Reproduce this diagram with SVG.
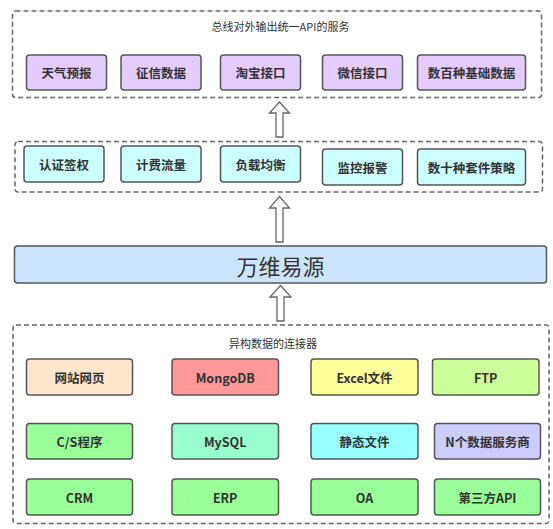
<svg xmlns="http://www.w3.org/2000/svg" width="553" height="529" viewBox="0 0 553 529">
<style>
text{font-family:"Noto Sans CJK SC","Noto Sans",sans-serif;fill:#333;text-anchor:middle;dominant-baseline:central}
.grp{fill:none;stroke:#666;stroke-width:1.5;stroke-dasharray:5 3}
.box{stroke:#555;stroke-width:1.5}
.lbl{font-size:12.5px;font-weight:bold}
.ttl{font-size:11px}
.arr{fill:#fff;stroke:#666;stroke-width:1.3}
.p{fill:#E5CCFF}.c{fill:#CCFFFF}.g{fill:#99FF99}
</style>
<rect width="553" height="529" fill="#fff"/>
<g id="api-group">
<rect class="grp" x="12.5" y="11" width="529" height="86.5" rx="3"/>
<text class="ttl" x="280.5" y="26">总线对外输出统一API的服务</text>
</g>
<g id="n-tianqi"><rect class="box p" x="26.5" y="55" width="80" height="35" rx="3"/><text class="lbl" x="66.5" y="72.5">天气预报</text></g>
<g id="n-zhengxin"><rect class="box p" x="121" y="55" width="80" height="35" rx="3"/><text class="lbl" x="161" y="72.5">征信数据</text></g>
<g id="n-taobao"><rect class="box p" x="220.5" y="55" width="80" height="35" rx="3"/><text class="lbl" x="260.5" y="72.5">淘宝接口</text></g>
<g id="n-weixin"><rect class="box p" x="322.5" y="55" width="80" height="35" rx="3"/><text class="lbl" x="362.5" y="72.5">微信接口</text></g>
<g id="n-jichu"><rect class="box p" x="417.5" y="55" width="108" height="35" rx="3"/><text class="lbl" x="471.5" y="72.5">数百种基础数据</text></g>

<g id="gateway-group"><rect class="grp" x="15" y="141.5" width="527.5" height="50.5" rx="3"/></g>
<g id="n-renzheng"><rect class="box c" x="24" y="146" width="80" height="36" rx="3"/><text class="lbl" x="64" y="164">认证签权</text></g>
<g id="n-jifei"><rect class="box c" x="121" y="146" width="80" height="36" rx="3"/><text class="lbl" x="161" y="164">计费流量</text></g>
<g id="n-fuzai"><rect class="box c" x="220.5" y="146" width="80" height="36" rx="3"/><text class="lbl" x="260.5" y="164">负载均衡</text></g>
<g id="n-jiankong"><rect class="box c" x="322.5" y="149" width="80" height="36" rx="3"/><text class="lbl" x="362.5" y="167">监控报警</text></g>
<g id="n-taojian"><rect class="box c" x="417.5" y="149" width="108" height="36" rx="3"/><text class="lbl" x="471.5" y="167">数十种套件策略</text></g>

<g id="n-main"><rect class="box" fill="#CCE5FF" x="14.5" y="246" width="532" height="37" rx="3"/><text x="280.5" y="265" style="font-size:22px">万维易源</text></g>

<g id="conn-group">
<rect class="grp" x="13" y="325" width="536" height="198.5" rx="3"/>
<text class="ttl" x="273" y="343">异构数据的连接器</text>
</g>
<g id="n-wangzhan"><rect class="box" fill="#FFE6CC" x="26.5" y="359" width="106" height="36" rx="3"/><text class="lbl" x="79.5" y="377">网站网页</text></g>
<g id="n-mongo"><rect class="box" fill="#FF9999" x="172" y="359" width="106.5" height="36" rx="3"/><text class="lbl" x="225.2" y="377">MongoDB</text></g>
<g id="n-excel"><rect class="box" fill="#FFFF99" x="311" y="359" width="107" height="36" rx="3"/><text class="lbl" x="364.5" y="377">Excel文件</text></g>
<g id="n-ftp"><rect class="box" fill="#CCFF99" x="432.5" y="359" width="106.5" height="36" rx="3"/><text class="lbl" x="485.7" y="377">FTP</text></g>
<g id="n-cs"><rect class="box g" x="26.5" y="423.5" width="106" height="35.5" rx="3"/><text class="lbl" x="79.5" y="441.2">C/S程序</text></g>
<g id="n-mysql"><rect class="box" fill="#99FFCC" x="172" y="423.5" width="106.5" height="35.5" rx="3"/><text class="lbl" x="225.2" y="441.2">MySQL</text></g>
<g id="n-jingtai"><rect class="box" fill="#99FFFF" x="311" y="423.5" width="107" height="35.5" rx="3"/><text class="lbl" x="364.5" y="441.2">静态文件</text></g>
<g id="n-nge"><rect class="box" fill="#CCCCFF" x="434.5" y="423.5" width="106" height="35.5" rx="3"/><text class="lbl" x="487.5" y="441.2">N个数据服务商</text></g>
<g id="n-crm"><rect class="box g" x="26.5" y="479" width="106" height="36" rx="3"/><text class="lbl" x="79.5" y="497">CRM</text></g>
<g id="n-erp"><rect class="box g" x="172" y="479" width="106.5" height="36" rx="3"/><text class="lbl" x="225.2" y="497">ERP</text></g>
<g id="n-oa"><rect class="box g" x="311" y="479" width="107" height="36" rx="3"/><text class="lbl" x="364.5" y="497">OA</text></g>
<g id="n-disanfang"><rect class="box g" x="434.5" y="479" width="106" height="36" rx="3"/><text class="lbl" x="487.5" y="497">第三方API</text></g>

<g id="connectors">
<path class="arr" d="M279.5 102 L289.5 113 L283 113 L283 137 L276 137 L276 113 L269.5 113 Z"/>
<path class="arr" d="M279.5 196.5 L289.5 208 L283 208 L283 242 L276 242 L276 208 L269.5 208 Z"/>
<path class="arr" d="M280.5 285.5 L291 297 L284 297 L284 321 L277 321 L277 297 L270 297 Z"/>
</g>
</svg>
